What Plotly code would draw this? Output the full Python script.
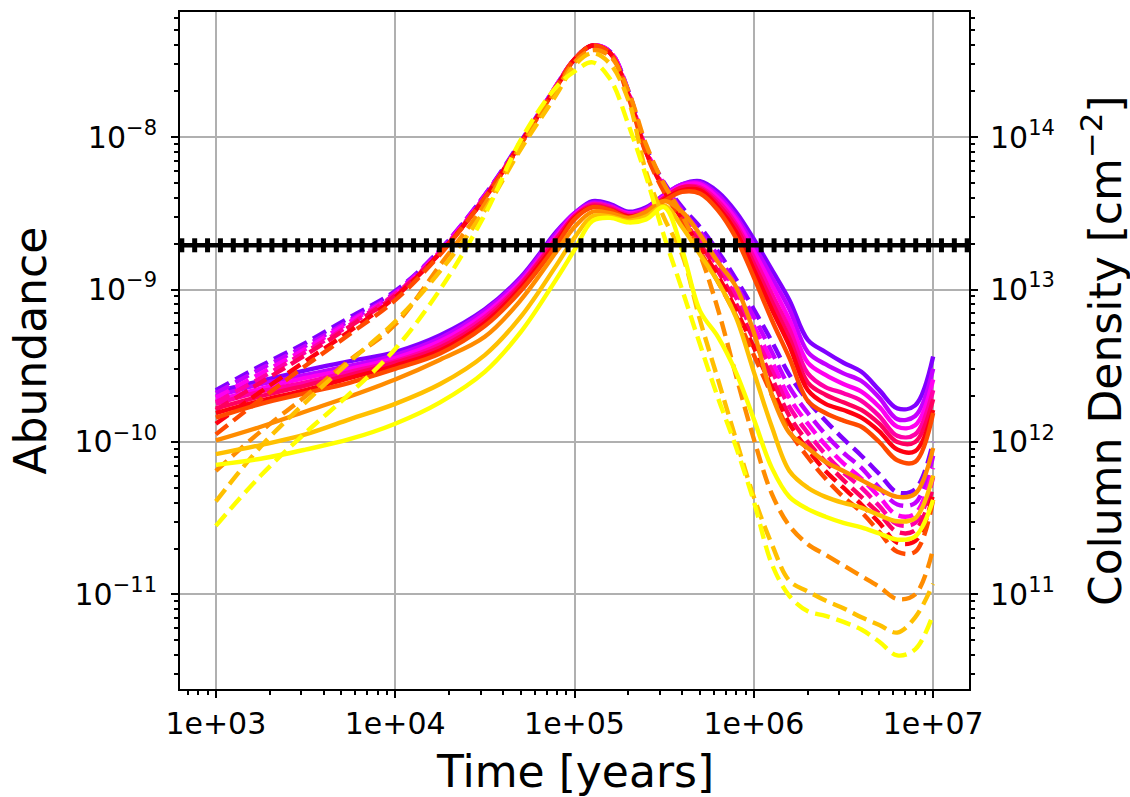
import numpy as np
import plotly.graph_objects as go

# Model output times [years]
time_years = [1.0e3, 1.78e3, 3.16e3, 5.62e3, 1.0e4, 1.78e4, 3.16e4, 5.01e4, 7.94e4, 1.0e5,
              1.26e5, 1.58e5, 2.0e5, 2.51e5, 3.16e5, 3.98e5, 5.01e5, 6.31e5, 7.94e5, 1.0e6,
              1.26e6, 1.58e6, 2.0e6, 2.51e6, 3.16e6, 3.98e6, 5.01e6, 6.31e6, 7.94e6, 1.0e7]

# log10(abundance) for the ten runs, solid-line set
sol_1 = [-9.67, -9.60, -9.53, -9.47, -9.41, -9.30, -9.13, -8.92, -8.62, -8.50, -8.42, -8.44, -8.49, -8.46, -8.38,
         -8.31, -8.29, -8.36, -8.49, -8.67, -8.87, -9.07, -9.33, -9.41, -9.48, -9.54, -9.66, -9.78, -9.76, -9.44]
sol_2 = [-9.70, -9.62, -9.56, -9.50, -9.43, -9.32, -9.14, -8.93, -8.63, -8.50, -8.43, -8.45, -8.50, -8.47, -8.38,
         -8.31, -8.30, -8.38, -8.52, -8.71, -8.92, -9.13, -9.41, -9.49, -9.55, -9.60, -9.71, -9.85, -9.83, -9.52]
sol_3 = [-9.73, -9.65, -9.58, -9.52, -9.45, -9.34, -9.16, -8.95, -8.65, -8.51, -8.44, -8.46, -8.50, -8.48, -8.39,
         -8.32, -8.31, -8.40, -8.54, -8.75, -8.97, -9.20, -9.48, -9.56, -9.62, -9.67, -9.77, -9.90, -9.89, -9.59]
sol_4 = [-9.75, -9.67, -9.61, -9.54, -9.47, -9.36, -9.18, -8.96, -8.66, -8.52, -8.44, -8.46, -8.51, -8.48, -8.40,
         -8.33, -8.33, -8.42, -8.57, -8.79, -9.03, -9.26, -9.55, -9.64, -9.68, -9.73, -9.83, -9.96, -9.95, -9.66]
sol_5 = [-9.78, -9.70, -9.63, -9.56, -9.48, -9.38, -9.20, -8.97, -8.67, -8.52, -8.45, -8.47, -8.52, -8.49, -8.40,
         -8.33, -8.34, -8.44, -8.59, -8.83, -9.08, -9.32, -9.61, -9.69, -9.74, -9.79, -9.88, -10.00, -10.00, -9.72]
sol_6 = [-9.81, -9.73, -9.66, -9.58, -9.50, -9.40, -9.22, -8.99, -8.69, -8.53, -8.46, -8.48, -8.52, -8.50, -8.41,
         -8.35, -8.35, -8.46, -8.62, -8.87, -9.13, -9.37, -9.66, -9.75, -9.79, -9.84, -9.93, -10.05, -10.06, -9.79]
sol_7 = [-9.84, -9.75, -9.68, -9.61, -9.52, -9.42, -9.24, -9.01, -8.71, -8.54, -8.46, -8.48, -8.53, -8.50, -8.42,
         -8.36, -8.37, -8.48, -8.66, -8.92, -9.20, -9.45, -9.73, -9.81, -9.86, -9.90, -10.00, -10.12, -10.13, -9.81]
sol_8 = [-9.99, -9.90, -9.80, -9.70, -9.59, -9.46, -9.31, -9.07, -8.75, -8.59, -8.49, -8.50, -8.53, -8.49, -8.42,
         -8.49, -8.64, -8.82, -8.98, -9.28, -9.69, -9.94, -10.04, -10.13, -10.19, -10.25, -10.31, -10.36, -10.34, -10.04]
sol_9 = [-10.08, -10.02, -9.95, -9.85, -9.75, -9.62, -9.43, -9.18, -8.84, -8.66, -8.52, -8.52, -8.55, -8.52, -8.45,
         -8.59, -8.77, -8.95, -9.18, -9.54, -9.90, -10.19, -10.30, -10.36, -10.40, -10.43, -10.48, -10.52, -10.50, -10.22]
sol_10 = [-10.15, -10.11, -10.05, -9.98, -9.88, -9.74, -9.54, -9.28, -8.93, -8.74, -8.55, -8.53, -8.56, -8.54, -8.46,
          -8.74, -9.14, -9.31, -9.54, -9.85, -10.17, -10.36, -10.44, -10.49, -10.53, -10.56, -10.60, -10.64, -10.62, -10.38]

# log10(abundance) for the ten runs, dashed-line set
dash_1 = [-9.66, -9.50, -9.35, -9.18, -9.01, -8.74, -8.38, -8.03, -7.66, -7.49, -7.40, -7.44, -7.70, -8.07, -8.30,
          -8.46, -8.59, -8.75, -8.93, -9.13, -9.34, -9.56, -9.73, -9.86, -9.98, -10.09, -10.21, -10.33, -10.31, -10.00]
dash_2 = [-9.68, -9.52, -9.37, -9.20, -9.02, -8.74, -8.38, -8.04, -7.66, -7.49, -7.40, -7.44, -7.70, -8.08, -8.31,
          -8.48, -8.62, -8.78, -8.97, -9.18, -9.41, -9.64, -9.81, -9.95, -10.07, -10.17, -10.30, -10.41, -10.40, -10.09]
dash_3 = [-9.71, -9.55, -9.39, -9.21, -9.03, -8.75, -8.39, -8.04, -7.66, -7.49, -7.40, -7.44, -7.71, -8.08, -8.33,
          -8.50, -8.65, -8.82, -9.01, -9.24, -9.47, -9.71, -9.88, -10.02, -10.14, -10.24, -10.36, -10.48, -10.47, -10.17]
dash_4 = [-9.74, -9.58, -9.41, -9.23, -9.03, -8.76, -8.39, -8.04, -7.66, -7.49, -7.40, -7.45, -7.72, -8.09, -8.34,
          -8.52, -8.67, -8.85, -9.05, -9.29, -9.53, -9.77, -9.94, -10.08, -10.20, -10.30, -10.42, -10.54, -10.53, -10.23]
dash_5 = [-9.79, -9.61, -9.43, -9.24, -9.04, -8.76, -8.40, -8.04, -7.67, -7.49, -7.40, -7.45, -7.72, -8.10, -8.34,
          -8.53, -8.70, -8.88, -9.09, -9.33, -9.58, -9.83, -10.00, -10.13, -10.25, -10.36, -10.47, -10.59, -10.58, -10.29]
dash_6 = [-9.88, -9.67, -9.47, -9.27, -9.05, -8.76, -8.40, -8.04, -7.67, -7.49, -7.40, -7.45, -7.73, -8.10, -8.35,
          -8.54, -8.72, -8.91, -9.13, -9.38, -9.64, -9.88, -10.05, -10.19, -10.30, -10.41, -10.53, -10.66, -10.65, -10.34]
dash_7 = [-9.95, -9.72, -9.50, -9.29, -9.07, -8.77, -8.40, -8.05, -7.67, -7.49, -7.40, -7.45, -7.74, -8.11, -8.36,
          -8.55, -8.75, -8.95, -9.17, -9.43, -9.69, -9.93, -10.10, -10.24, -10.36, -10.46, -10.59, -10.72, -10.72, -10.38]
dash_8 = [-10.19, -9.93, -9.70, -9.46, -9.23, -8.84, -8.44, -8.06, -7.69, -7.51, -7.43, -7.47, -7.70, -8.05, -8.31,
          -8.51, -8.77, -9.13, -9.56, -9.98, -10.34, -10.55, -10.67, -10.74, -10.81, -10.88, -10.95, -11.03, -11.00, -10.70]
dash_9 = [-10.39, -10.03, -9.74, -9.47, -9.21, -8.88, -8.48, -8.08, -7.72, -7.53, -7.45, -7.52, -7.76, -8.23, -8.53,
          -8.77, -9.20, -9.59, -9.98, -10.36, -10.67, -10.91, -10.98, -11.04, -11.09, -11.15, -11.20, -11.25, -11.15, -10.93]
dash_10 = [-10.55, -10.22, -9.94, -9.68, -9.39, -9.00, -8.51, -8.02, -7.67, -7.57, -7.51, -7.62, -7.92, -8.26, -8.65,
           -9.00, -9.36, -9.71, -10.03, -10.39, -10.80, -11.01, -11.11, -11.14, -11.18, -11.23, -11.31, -11.40, -11.36, -11.13]

solid_runs = [sol_1, sol_2, sol_3, sol_4, sol_5, sol_6, sol_7, sol_8, sol_9, sol_10]
dashed_runs = [dash_1, dash_2, dash_3, dash_4, dash_5, dash_6, dash_7, dash_8, dash_9, dash_10]

run_colors = ['#8000ff', '#c400ff', '#ff00f0', '#ff00a8', '#ff0060',
              '#ff0010', '#ff4a00', '#ff8c00', '#ffc000', '#ffff00']

# Observed column density and the H2 column used to convert to abundance
obs_column_density = 1.95e13
n_h2 = 1.0e22

x_tick_vals = [1e3, 1e4, 1e5, 1e6, 1e7]
x_tick_text = ['1e+03', '1e+04', '1e+05', '1e+06', '1e+07']
y_tick_exps = [-11, -10, -9, -8]
y2_tick_exps = [11, 12, 13, 14]

x_range = [2.8, 7.2]
y_range = [-11.62, -7.18]
y2_range = [y_range[0] + np.log10(n_h2), y_range[1] + np.log10(n_h2)]

fig = go.Figure()

for sol, dsh, col in zip(solid_runs, dashed_runs, run_colors):
    fig.add_trace(go.Scatter(
        x=time_years, y=10 ** np.array(sol), mode='lines',
        line=dict(color=col, width=4.4, shape='spline', smoothing=1.0),
        hoverinfo='skip'))
    fig.add_trace(go.Scatter(
        x=time_years, y=10 ** np.array(dsh), mode='lines',
        line=dict(color=col, width=4.4, dash='15px,7px', shape='spline', smoothing=1.0),
        hoverinfo='skip'))

# Observation: constant column density drawn across the full time range
obs_times = np.logspace(x_range[0] + 0.01, x_range[1] - 0.01, 62)
fig.add_trace(go.Scatter(
    x=obs_times, y=[obs_column_density] * len(obs_times), yaxis='y2',
    mode='lines+markers',
    line=dict(color='black', width=4.5),
    marker=dict(symbol='line-ns', size=10, color='black', line=dict(color='black', width=5)),
    hoverinfo='skip', cliponaxis=False))


def minor_vals(lo, hi):
    return [m * 10.0 ** k for k in range(lo, hi) for m in range(2, 10)]


def power_labels(exps):
    return [f'10<sup>{e}</sup>'.replace('-', '\u2212') for e in exps]


axis_common = dict(
    type='log', showline=True, linecolor='black', linewidth=2,
    ticks='outside', ticklen=7, tickwidth=2, tickcolor='black',
    zeroline=False, automargin=False,
    tickfont=dict(family='DejaVu Sans', size=30, color='black'),
)

fig.update_layout(
    width=1130, height=797,
    margin=dict(l=180, r=161, t=12, b=108),
    plot_bgcolor='white', paper_bgcolor='white',
    showlegend=False,
    font=dict(family='DejaVu Sans', size=30, color='black'),
    xaxis=dict(
        **axis_common, range=x_range, mirror=True,
        tickmode='array', tickvals=x_tick_vals, ticktext=x_tick_text,
        showgrid=True, gridcolor='#b0b0b0', gridwidth=1.5,
        minor=dict(tickmode='array', tickvals=minor_vals(2, 8), ticks='outside',
                   ticklen=4, tickwidth=1.5, tickcolor='black', showgrid=False),
    ),
    yaxis=dict(
        **axis_common, range=y_range, ticklabelstandoff=8,
        tickmode='array', tickvals=[10.0 ** e for e in y_tick_exps], ticktext=power_labels(y_tick_exps),
        showgrid=True, gridcolor='#b0b0b0', gridwidth=1.5,
        minor=dict(tickmode='array', tickvals=minor_vals(-12, -7), ticks='outside',
                   ticklen=4, tickwidth=1.5, tickcolor='black', showgrid=False),
    ),
    yaxis2=dict(
        **axis_common, range=y2_range, overlaying='y', side='right', ticklabelstandoff=6,
        tickmode='array', tickvals=[10.0 ** e for e in y2_tick_exps], ticktext=power_labels(y2_tick_exps),
        showgrid=False,
        minor=dict(tickmode='array', tickvals=minor_vals(10, 15), ticks='outside',
                   ticklen=4, tickwidth=1.5, tickcolor='black', showgrid=False),
    ),
    annotations=[
        dict(text='Abundance', xref='paper', yref='paper', x=-0.19, y=0.5,
             xanchor='center', yanchor='middle', textangle=-90, showarrow=False,
             font=dict(family='DejaVu Sans', size=44, color='black')),
        dict(text='Column Density [cm<sup>\u22122</sup>]', xref='paper', yref='paper',
             x=1.168, y=0.5, xanchor='center', yanchor='middle', textangle=-90,
             showarrow=False, font=dict(family='DejaVu Sans', size=44, color='black')),
        dict(text='Time [years]', xref='paper', yref='paper', x=0.5, y=-0.122,
             xanchor='center', yanchor='middle', showarrow=False,
             font=dict(family='DejaVu Sans', size=44, color='black')),
    ],
)

fig.write_html('out.html')
